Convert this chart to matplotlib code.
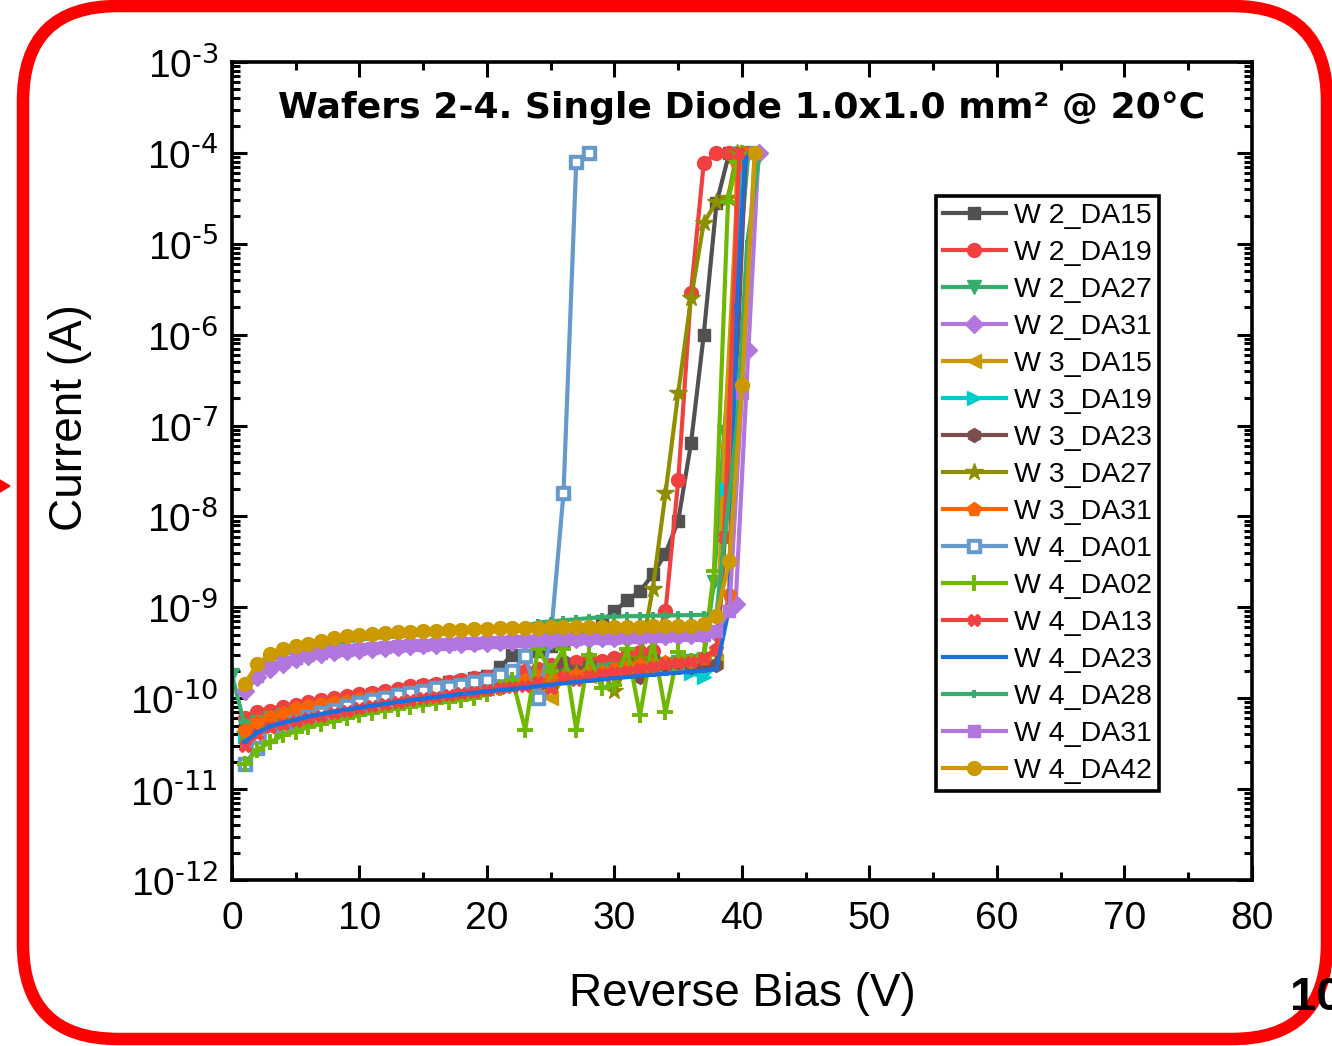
import numpy as np
import matplotlib.pyplot as plt
from matplotlib.patches import FancyBboxPatch, Polygon
from matplotlib.transforms import IdentityTransform
from matplotlib.legend_handler import HandlerTuple
from matplotlib.ticker import LogLocator, NullFormatter, MultipleLocator

plt.rcParams['font.family'] = ['Liberation Sans', 'DejaVu Sans']
plt.rcParams['mathtext.default'] = 'regular'

# bias in V, current in pA (1e8 pA = 1e-4 A compliance)
w2_da15_v = list(range(1, 40))
w2_da15_i = [50, 60, 65, 70, 75, 80, 85, 90, 100, 105, 110, 115, 120, 130, 135, 140, 150, 155, 165, 175,
             220, 300, 300, 330, 380, 420, 460, 550, 700, 900, 1.2e3, 1.5e3, 2.3e3, 3.9e3, 9e3, 6.4e4, 1e6, 2.8e7, 1e8]

w2_da19_v = list(range(1, 41))
w2_da19_i = [60, 70, 73, 80, 85, 90, 95, 100, 105, 110, 115, 120, 125, 135, 140, 145, 150, 160, 165, 170,
             180, 190, 200, 210, 230, 240, 250, 270, 260, 280, 300, 320, 330, 900, 2.5e4, 2.9e6, 7.7e7, 1e8, 1e8, 1e8]

w2_da27_v = list(range(0, 38)) + [37.8, 38.6, 40.5]
w2_da27_i = [180, 50, 55, 60, 65, 70, 74, 78, 82, 87, 92, 96, 100, 104, 108, 113, 117, 122, 126, 130,
             135, 140, 145, 150, 160, 170, 180, 190, 200, 205, 210, 220, 230, 235, 240, 250, 255, 270,
             1.9e3, 8.4e4, 1e8]

w2_da31_v = list(range(1, 39)) + [39.5, 40.5, 41.3]
w2_da31_i = [120, 170, 210, 240, 270, 290, 305, 320, 330, 340, 350, 360, 368, 375, 382, 390, 395, 400, 405, 410,
             415, 420, 425, 430, 435, 440, 445, 450, 455, 460, 465, 470, 475, 480, 485, 490, 495, 520,
             1.1e3, 6.8e5, 1e8]

w3_da15_v = list(range(1, 39)) + [38.6, 39.8]
w3_da15_i = [42, 50, 56, 60, 64, 70, 75, 80, 85, 90, 95, 100, 104, 110, 115, 118, 122, 128, 132, 136,
             140, 150, 160, 130, 100, 170, 180, 175, 190, 200, 205, 210, 215, 220, 225, 230, 240, 260,
             6e4, 1e8]

w3_da19_v = list(range(1, 39)) + [38.8, 39.9]
w3_da19_i = [38, 46, 52, 58, 63, 68, 73, 78, 83, 88, 92, 97, 102, 106, 111, 116, 120, 125, 130, 134,
             140, 146, 152, 158, 165, 172, 178, 185, 190, 196, 202, 206, 212, 218, 224, 190, 170, 230,
             2e4, 1e8]

w3_da23_v = list(range(1, 39)) + [39.7, 40.3]
w3_da23_i = [45, 52, 58, 63, 68, 73, 78, 82, 87, 92, 96, 100, 105, 110, 114, 118, 123, 128, 132, 136,
             142, 150, 155, 145, 140, 260, 200, 230, 190, 210, 250, 170, 270, 230, 250, 220, 230, 230,
             1e6, 1e8]

w3_da27_v = list(range(1, 39)) + [38.9, 39.6]
w3_da27_i = [40, 48, 54, 60, 65, 70, 75, 80, 84, 89, 94, 98, 103, 107, 112, 116, 121, 126, 130, 135,
             140, 145, 150, 160, 150, 175, 190, 180, 200, 120, 230, 270, 1.6e3, 1.8e4, 2.3e5, 2.5e6, 1.7e7, 2.9e7,
             3.2e7, 1e8]

w3_da31_v = list(range(1, 39)) + [39.0, 39.6, 40.2]
w3_da31_i = [45, 55, 62, 68, 78, 82, 86, 90, 94, 98, 102, 106, 110, 114, 118, 122, 126, 130, 134, 138,
             145, 150, 160, 175, 170, 165, 180, 200, 195, 210, 220, 230, 240, 250, 255, 260, 280, 350,
             1.4e3, 7.5e7, 1e8]

w4_da01_v = list(range(1, 29))
w4_da01_i = [19, 28, 38, 48, 55, 62, 68, 75, 82, 88, 95, 100, 108, 115, 120, 128, 132, 140, 150, 160,
             180, 200, 290, 100, 460, 1.8e4, 8e7, 1e8]

w4_da02_v = list(range(1, 38)) + [37.8, 38.9, 39.6, 40.0]
w4_da02_i = [19, 27, 33, 39, 43, 48, 52, 56, 60, 65, 69, 73, 77, 81, 84, 88, 92, 96, 100, 110,
             130, 160, 45, 350, 200, 350, 45, 300, 130, 140, 350, 65, 430, 70, 320, 260, 300,
             2.5e3, 2.9e7, 8e7, 1e8]

w4_da13_v = list(range(1, 39)) + [38.6, 39.8]
w4_da13_i = [30, 40, 48, 52, 56, 60, 64, 68, 72, 78, 82, 86, 90, 95, 100, 104, 108, 113, 118, 122,
             128, 132, 138, 150, 130, 170, 160, 175, 185, 195, 200, 210, 220, 240, 245, 250, 280, 340,
             5.9e3, 1e8]

w4_da23_v = list(range(1, 39)) + [39.0, 39.6, 40.2, 40.6]
w4_da23_i = [33, 42, 49, 54, 58, 63, 67, 71, 75, 79, 83, 87, 91, 95, 99, 103, 107, 111, 115, 119,
             123, 127, 131, 136, 141, 146, 151, 156, 161, 166, 171, 176, 181, 186, 191, 196, 201, 210,
             1e3, 2e6, 8e7, 1e8]

w4_da28_v = list(range(1, 39)) + [39.6, 40.4, 41.4]
w4_da28_i = [140, 220, 260, 300, 330, 360, 380, 400, 420, 440, 460, 470, 480, 490, 500, 510, 520, 530, 540, 550,
             560, 580, 620, 680, 700, 720, 740, 760, 780, 790, 800, 800, 810, 810, 820, 820, 830, 850,
             1e5, 1e7, 1e8]

w4_da31_v = list(range(1, 42))
w4_da31_i = [130, 175, 220, 250, 280, 300, 315, 330, 340, 350, 360, 370, 380, 385, 390, 395, 400, 405, 410, 415,
             420, 425, 430, 435, 440, 445, 450, 455, 460, 465, 470, 475, 480, 485, 490, 495, 500, 550,
             900, 2.3e5, 1e8]

w4_da42_v = list(range(1, 42))
w4_da42_i = [145, 235, 310, 350, 380, 400, 430, 460, 480, 500, 510, 520, 530, 540, 550, 555, 560, 570, 575, 580,
             585, 590, 590, 595, 600, 600, 605, 605, 610, 610, 615, 615, 620, 620, 625, 630, 650, 800,
             3.2e3, 2.8e5, 1e8]

names = ['W 2_DA15', 'W 2_DA19', 'W 2_DA27', 'W 2_DA31', 'W 3_DA15', 'W 3_DA19', 'W 3_DA23', 'W 3_DA27',
         'W 3_DA31', 'W 4_DA01', 'W 4_DA02', 'W 4_DA13', 'W 4_DA23', 'W 4_DA28', 'W 4_DA31', 'W 4_DA42']
volts = [w2_da15_v, w2_da19_v, w2_da27_v, w2_da31_v, w3_da15_v, w3_da19_v, w3_da23_v, w3_da27_v,
         w3_da31_v, w4_da01_v, w4_da02_v, w4_da13_v, w4_da23_v, w4_da28_v, w4_da31_v, w4_da42_v]
currents = [w2_da15_i, w2_da19_i, w2_da27_i, w2_da31_i, w3_da15_i, w3_da19_i, w3_da23_i, w3_da27_i,
            w3_da31_i, w4_da01_i, w4_da02_i, w4_da13_i, w4_da23_i, w4_da28_i, w4_da31_i, w4_da42_i]
colors = ['#515151', '#F14040', '#37AD6B', '#B177DE', '#CC9900', '#00CBCC', '#7D4E4E', '#8E8E00',
          '#FB6501', '#6699CC', '#6FB802', '#F14040', '#1A6FDF', '#37AD6B', '#B177DE', '#CC9900']
markers = ['s', 'o', 'v', 'D', '<', '>', 'h', '*', 'p', 's', '+', 'X', '_', '|', 's', 'o']
msizes = [9, 10, 10, 9, 10, 10, 10, 13, 10, 10, 11, 9, 5, 6, 9, 10]

fig = plt.figure(figsize=(13.32, 10.46), dpi=100)
ax = fig.add_axes([232 / 1332, 166 / 1046, 1020 / 1332, 818 / 1046])

handles = []
for name, v, cur, c, m, ms in zip(names, volts, currents, colors, markers, msizes):
    line, = ax.plot(v, np.array(cur) * 1e-12, color=c, marker=m, ms=ms, mfc=c, mec=c,
                    mew=2.8 if m in '+|_' else 1, lw=3, label=name)
    if name == 'W 4_DA01':
        dot, = ax.plot(v, np.array(cur) * 1e-12, ls='none', marker='s', ms=4, mfc='white', mec='white')
        handles.append((line, dot))
    else:
        handles.append(line)

ax.set_yscale('log')
ax.set_xlim(0, 80)
ax.set_ylim(1e-12, 1e-3)
ax.xaxis.set_major_locator(MultipleLocator(10))
ax.xaxis.set_minor_locator(MultipleLocator(5))
ax.yaxis.set_minor_locator(LogLocator(base=10, subs=np.arange(2, 10), numticks=20))
ax.yaxis.set_minor_formatter(NullFormatter())
ax.set_yticks([10.0 ** k for k in range(-12, -2)])
ax.set_yticklabels([r'$10^{\text{%d}}$' % k for k in range(-12, -2)])

ax.tick_params(which='both', direction='in', top=True, right=True, width=2.2)
ax.tick_params(which='major', length=11, labelsize=28)
ax.tick_params(axis='y', which='major', pad=10)
ax.tick_params(axis='x', which='major', pad=15)
ax.tick_params(which='minor', length=6)
for s in ax.spines.values():
    s.set_linewidth(2.6)

ax.set_xlabel('Reverse Bias (V)', fontsize=33)
ax.set_ylabel('Current (A)', fontsize=33)
ax.xaxis.set_label_coords(0.5, -0.112)
ax.yaxis.set_label_coords(-0.137, 0.565)

ax.text(0.5, 0.944, 'Wafers 2-4. Single Diode 1.0x1.0 mm\u00b2 @ 20\u00b0C', transform=ax.transAxes,
        ha='center', va='center', fontsize=26, fontweight='bold', family=['DejaVu Sans'])

leg = ax.legend(handles, names, loc='upper left', bbox_to_anchor=(0.690, 0.836), borderaxespad=0,
                fontsize=20.5, handlelength=2.2, handletextpad=0.3, labelspacing=0.385, borderpad=0.25,
                fancybox=False, edgecolor='black', framealpha=1,
                handler_map={tuple: HandlerTuple(ndivide=1)})
leg.get_frame().set_linewidth(2.6)

# slide frame
frame = FancyBboxPatch((23, 7), 1304, 1033, boxstyle='round,pad=0,rounding_size=95',
                       transform=IdentityTransform(), fill=False, edgecolor='#FF0000', linewidth=9)
fig.add_artist(frame)
fig.add_artist(Polygon([[0, 566], [10, 560], [0, 554]], closed=True, transform=IdentityTransform(),
                       color='#FF0000'))
fig.text(1290 / 1332, 48 / 1046, '10', fontsize=34, fontweight='bold', ha='left', va='center')

fig.savefig('out.png', dpi=100)
